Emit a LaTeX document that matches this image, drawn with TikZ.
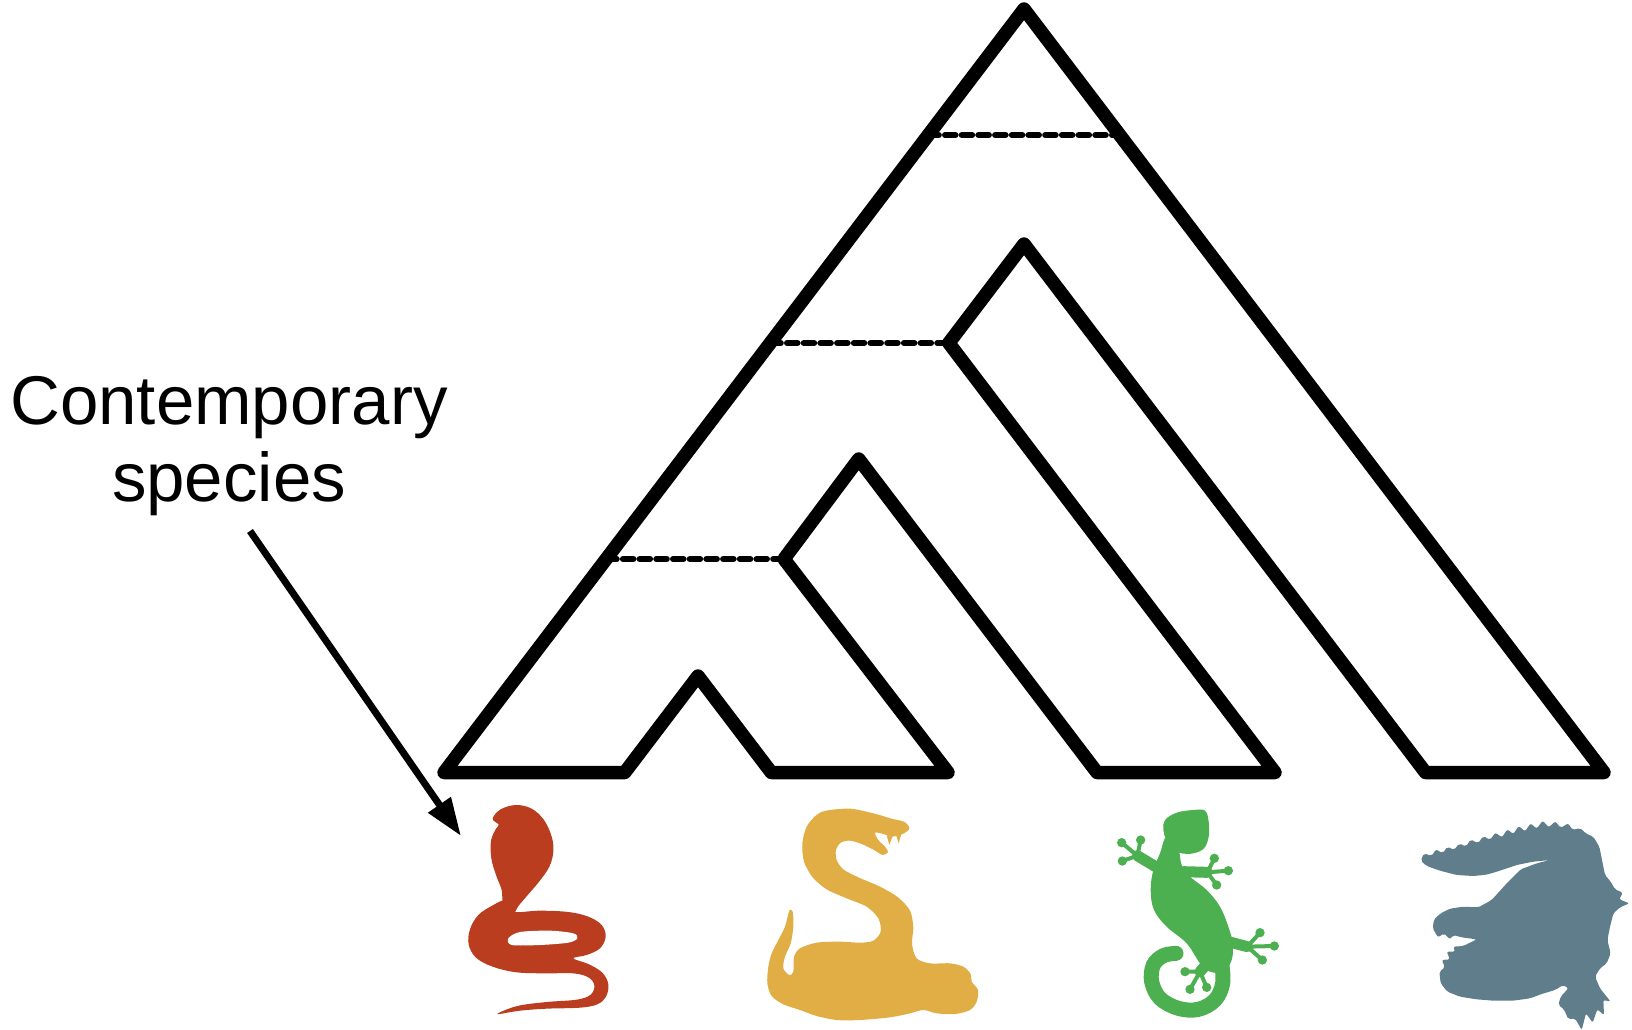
\documentclass[tikz,border=0pt]{standalone}
\usepackage{fontspec}
\setmainfont{Liberation Sans}
\usetikzlibrary{arrows.meta}

\definecolor{cobrared}{RGB}{185,61,30}
\definecolor{viperyellow}{RGB}{224,174,69}
\definecolor{geckogreen}{RGB}{76,175,80}
\definecolor{crocgrey}{RGB}{96,125,139}

\tikzset{
  branch/.style={line width=13.5pt,line join=round},
  event/.style={line width=6pt,line cap=round,dash pattern=on 10.5pt off 6.2pt},
  pointer/.style={line width=7pt,-{Triangle[length=38pt,width=26pt]}},
  leg/.style={line width=11pt,line cap=round},
  toe/.style={line width=4pt,line cap=round},
}

\begin{document}
\begin{tikzpicture}[x=1pt,y=-1pt]
\useasboundingbox (0,0) rectangle (1632,1030);

% species tree outline
\coordinate (root) at (1024,9);
\coordinate (bl) at (444,772.5);
\coordinate (br) at (1604,772.5);
\coordinate (crocl) at (1425.5,772.5);
\coordinate (sq) at (1024,244);
\coordinate (sqn) at (948.8,343);
\coordinate (geckor) at (1275,772.5);
\coordinate (geckol) at (1097,772.5);
\coordinate (snk) at (858.7,459);
\coordinate (snkn) at (784,559);
\coordinate (viperr) at (948,772.5);
\coordinate (viperl) at (771.3,772.5);
\coordinate (gap) at (698,676);
\coordinate (cobrar) at (624.7,772.5);
\draw[branch] (bl) -- (root) -- (br) -- (crocl) -- (sq) -- (sqn) -- (geckor)
  -- (geckol) -- (snk) -- (snkn) -- (viperr) -- (viperl) -- (gap) -- (cobrar) -- cycle;

% speciation levels
\coordinate (e1l) at (928.3,135);
\coordinate (e1r) at (1119.7,135);
\coordinate (e2l) at (770.3,343);
\coordinate (e3l) at (606.2,559);
\draw[event] (e1l) -- (e1r);
\draw[event] (e2l) -- (sqn);
\draw[event] (e3l) -- (snkn);

% label
\node[font=\fontsize{69}{77}\selectfont,align=center,inner sep=0pt] (lbl) at (229,446)
  {Contemporary\\species};
\coordinate (ptr) at (250,531);
\coordinate (cobra) at (461,836);
\draw[pointer] (ptr) -- (cobra);

% cobra
\begin{scope}[shift={(440,790)},scale=1/3]
  \fill[cobrared] plot[smooth cycle,tension=0.6] coordinates {
    (215,365) (300,362) (385,366) (445,380) (485,405) (497,440) (480,475)
    (440,495) (400,505) (445,522) (487,548) (505,583) (498,620) (472,643)
    (420,653) (320,656) (240,662) (172,672) (232,648) (320,636) (410,629)
    (452,614) (463,586) (445,562) (400,550) (320,550) (230,547) (158,530)
    (108,503) (86,463) (90,418) (115,375) (160,345) (195,332)};
  \fill[white] plot[smooth cycle] coordinates {
    (205,445) (240,426) (330,422) (400,430) (412,445) (385,458) (300,465) (215,465)};
  \fill[cobrared] plot[smooth cycle,tension=0.6] coordinates {
    (158,86) (182,58) (228,45) (275,56) (312,90) (335,140) (340,185)
    (328,230) (298,274) (264,314) (236,347) (218,372) (190,342) (185,300)
    (168,255) (154,205) (153,152) (168,116) (176,104)};
\end{scope}

% rattlesnake
\begin{scope}[shift={(750,790)},scale=1/3]
  \fill[viperyellow] plot[smooth cycle,tension=0.5] coordinates {
    (228,62) (300,56) (370,70) (425,86) (464,96) (478,115) (462,130)
    (445,136) (425,140) (400,132) (375,128) (385,150) (405,170) (414,186)
    (398,195) (372,180) (335,162) (300,152) (272,158) (258,180) (260,210)
    (280,238) (325,262) (390,290) (444,322) (480,362) (490,412) (486,462)
    (500,505) (540,520) (600,520) (640,530) (662,552) (665,575) (684,600)
    (680,635) (660,660) (615,672) (560,670) (520,660) (480,670) (420,682)
    (330,690) (260,690) (200,678) (150,660) (100,643) (65,618) (52,580)
    (55,530) (65,490) (85,450) (105,410) (118,362) (128,365) (130,410)
    (122,460) (105,500) (100,535) (118,555) (130,545) (132,500) (150,475)
    (200,458) (270,455) (330,458) (370,452) (392,425) (385,385) (350,350)
    (290,325) (230,298) (188,262) (162,215) (157,160) (170,110) (198,76)};
  \fill[viperyellow] (410,136) -- (418,165) -- (428,138) -- cycle;
  \fill[viperyellow] (438,134) -- (446,160) -- (454,132) -- cycle;
\end{scope}

% gecko
\begin{scope}[shift={(1100,790)},scale=1/3]
  \draw[geckogreen,line width=15pt,line cap=round] plot[smooth,tension=0.6] coordinates {
    (365,520) (368,580) (345,630) (295,658) (235,655) (180,625) (155,575)
    (160,525) (190,497) (228,490)};
  \fill[geckogreen] plot[smooth cycle,tension=0.6] coordinates {
    (200,140) (235,180) (245,225) (270,260) (320,300) (360,350) (385,410)
    (398,460) (395,510) (370,545) (330,545) (300,520) (260,460) (200,410)
    (162,360) (152,300) (160,240) (180,190)};
  \fill[geckogreen] plot[smooth cycle,tension=0.6] coordinates {
    (195,90) (230,68) (280,60) (315,62) (326,95) (326,140) (312,175)
    (280,190) (245,190) (225,180) (200,150) (190,120)};
  % legs and toes
  \draw[geckogreen,leg] (175,235) -- (112,197);
  \draw[geckogreen,leg] (250,245) -- (322,247);
  \draw[geckogreen,leg] (385,455) -- (442,470);
  \draw[geckogreen,leg] (335,505) -- (300,545);
  \draw[geckogreen,toe] (65,158) -- (112,197) -- (122,150) (112,197) -- (67,213);
  \draw[geckogreen,toe] (343,205) -- (322,247) -- (385,242) (322,247) -- (350,285);
  \draw[geckogreen,toe] (480,428) -- (442,470) -- (523,468) (442,470) -- (487,510);
  \draw[geckogreen,toe] (255,545) -- (300,545) -- (270,598) (300,545) -- (320,592);
  \foreach \p in {(65,158),(122,150),(67,213),(343,205),(385,242),(350,285),
                  (480,428),(523,468),(487,510),(255,545),(270,598),(320,592)}
    \fill[geckogreen] \p circle (14);
\end{scope}

% crocodile
\begin{scope}[shift={(1400,800)},scale=1/3]
  \fill[crocgrey,rounded corners=2pt] (62,182)
    -- (72,160) -- (95,168) -- (108,148) -- (128,160) -- (142,140) -- (162,150)
    -- (178,130) -- (198,140) -- (212,118) -- (234,130) -- (250,108) -- (270,120)
    -- (286,98) -- (306,112) -- (322,88) -- (340,102) -- (356,78) -- (375,94)
    -- (392,70) -- (410,86) -- (428,62) -- (446,82) -- (466,64) -- (482,84)
    -- (504,70) -- (518,90) -- (540,84) -- (560,102) -- (580,110)
    -- (598,140) -- (608,190) -- (615,225) -- (632,245) -- (645,268) -- (668,278)
    -- (658,298) -- (688,310) -- (660,322) -- (640,340) -- (630,380) -- (622,420)
    -- (632,460) -- (620,490) -- (600,505) -- (585,530) -- (600,565) -- (632,605)
    -- (610,600) -- (612,645) -- (592,628) -- (578,668) -- (558,640) -- (545,690)
    -- (525,655) -- (505,658) -- (492,628) -- (475,615) -- (482,590) -- (505,565)
    -- (490,555) -- (465,570) -- (425,582) -- (390,595) -- (340,602) -- (280,602)
    -- (230,598) -- (180,590) -- (142,575) -- (122,550) -- (118,515) -- (135,502)
    -- (125,480) -- (150,478) -- (140,455) -- (165,455) -- (160,440) -- (190,438)
    -- (230,418) -- (185,412) -- (160,405) -- (150,418) -- (132,400) -- (114,412)
    -- (98,385) -- (102,358) -- (122,340) -- (150,326) -- (190,320) -- (235,322)
    -- (275,300) -- (322,248) -- (362,208) -- (410,190) -- (450,180)
    -- (400,185) -- (350,195) -- (300,212) -- (260,224) -- (220,228) -- (170,225)
    -- (120,212) -- (80,198) -- cycle;
\end{scope}
\end{tikzpicture}
\end{document}
